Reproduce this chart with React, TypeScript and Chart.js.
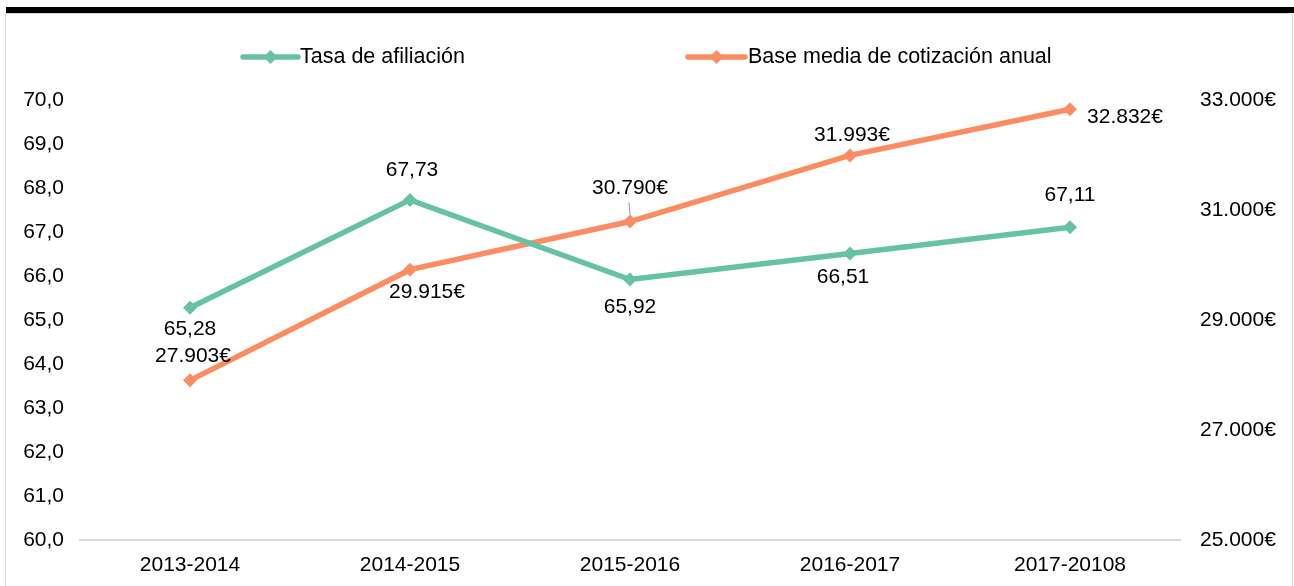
import React, { useEffect, useRef } from "react";
import { Chart, registerables } from "chart.js";

Chart.register(...registerables);

const categories = ["2013-2014", "2014-2015", "2015-2016", "2016-2017", "2017-20108"];
const tasaAfiliacion = [65.28, 67.73, 65.92, 66.51, 67.11];
const baseMedia = [27903, 29915, 30790, 31993, 32832];
const seriesNames = ["Tasa de afiliación", "Base media de cotización anual"];
const leftTicks = [60, 61, 62, 63, 64, 65, 66, 67, 68, 69, 70];
const rightTicks = [25000, 27000, 29000, 31000, 33000];

const GREEN = "#66c2a5";
const ORANGE = "#fc8d62";
const FONT = '"Liberation Sans", Arial, sans-serif';
const FS = 21;

// label placement offsets (px) relative to each point
const greenLabelOffsets = [[0, 22], [2, -30], [0, 28], [-7, 24], [0, -32]];
const orangeLabelOffsets = [[3, -24], [17, 23], [0, -33], [2, -20], [55, 8]];
const orangeLeader = [false, false, true, false, false];

const fmtComma = (v: number) => v.toFixed(2).replace(".", ",");
const fmtEuro = (v: number) =>
  Math.round(v).toString().replace(/\B(?=(\d{3})+(?!\d))/g, ".") + "€";

function drawDiamond(ctx: CanvasRenderingContext2D, x: number, y: number, r: number, color: string) {
  ctx.save();
  ctx.fillStyle = color;
  ctx.beginPath();
  ctx.moveTo(x, y - r);
  ctx.lineTo(x + r, y);
  ctx.lineTo(x, y + r);
  ctx.lineTo(x - r, y);
  ctx.closePath();
  ctx.fill();
  ctx.restore();
}

const labelPlugin = {
  id: "customLabels",
  afterDatasetsDraw(chart: any) {
    const ctx = chart.ctx as CanvasRenderingContext2D;
    ctx.save();
    ctx.font = `${FS}px ${FONT}`;
    ctx.fillStyle = "#000";
    ctx.textAlign = "center";
    ctx.textBaseline = "middle";
    chart.data.datasets.forEach((ds: any, di: number) => {
      const meta = chart.getDatasetMeta(di);
      const offs = di === 0 ? greenLabelOffsets : orangeLabelOffsets;
      meta.data.forEach((pt: any, i: number) => {
        const v = ds.data[i];
        const txt = di === 0 ? fmtComma(v) : fmtEuro(v);
        const [dx, dy] = offs[i];
        if (di === 1 && orangeLeader[i]) {
          ctx.save();
          ctx.strokeStyle = "#a6a6a6";
          ctx.lineWidth = 1.2;
          ctx.beginPath();
          ctx.moveTo(pt.x - 1, pt.y + dy + 14);
          ctx.lineTo(pt.x, pt.y - 7);
          ctx.stroke();
          ctx.restore();
        }
        ctx.fillText(txt, pt.x + dx, pt.y + dy);
      });
    });
    ctx.restore();
  },
  afterDraw(chart: any) {
    const ctx = chart.ctx as CanvasRenderingContext2D;
    const items = [
      { x1: 243, x2: 298, tx: 300, color: GREEN, name: seriesNames[0] },
      { x1: 688, x2: 745, tx: 748, color: ORANGE, name: seriesNames[1] },
    ];
    const y = 57;
    ctx.save();
    items.forEach((it) => {
      ctx.strokeStyle = it.color;
      ctx.lineWidth = 5.5;
      ctx.lineCap = "round";
      ctx.beginPath();
      ctx.moveTo(it.x1, y);
      ctx.lineTo(it.x2, y);
      ctx.stroke();
      drawDiamond(ctx, (it.x1 + it.x2) / 2, y, 7, it.color);
      ctx.fillStyle = "#000";
      ctx.font = `21.5px ${FONT}`;
      ctx.textAlign = "left";
      ctx.textBaseline = "middle";
      ctx.fillText(it.name, it.tx, y);
    });
    ctx.restore();
  },
};

export default function App() {
  const ref = useRef<HTMLCanvasElement | null>(null);

  useEffect(() => {
    document.body.style.margin = "0";
    const canvas = ref.current!;
    const chart = new Chart(canvas, {
      type: "line",
      data: {
        labels: categories,
        datasets: [
          {
            label: seriesNames[0],
            data: tasaAfiliacion,
            yAxisID: "y",
            borderColor: GREEN,
            backgroundColor: GREEN,
            borderWidth: 5.5,
            pointStyle: "rectRot",
            pointRadius: 7,
            pointBorderWidth: 0,
            tension: 0,
          },
          {
            label: seriesNames[1],
            data: baseMedia,
            yAxisID: "y1",
            borderColor: ORANGE,
            backgroundColor: ORANGE,
            borderWidth: 5.5,
            pointStyle: "rectRot",
            pointRadius: 7,
            pointBorderWidth: 0,
            tension: 0,
          },
        ],
      },
      options: {
        responsive: false,
        animation: false,
        layout: { padding: { top: 100, left: 0, right: 0, bottom: 0 } },
        plugins: {
          legend: { display: false },
          tooltip: { enabled: false },
        },
        scales: {
          x: {
            offset: true,
            grid: { display: false, drawTicks: false },
            border: { display: true, color: "#d9d9d9", width: 2 },
            ticks: { color: "#000", font: { family: FONT, size: FS }, padding: 13, maxRotation: 0 },
            afterFit: (s: any) => { s.height = 46; },
          },
          y: {
            position: "left",
            min: 60,
            max: 70,
            afterBuildTicks: (s: any) => { s.ticks = leftTicks.map((v) => ({ value: v })); },
            grid: { display: false, drawTicks: false },
            border: { display: false },
            ticks: {
              color: "#000",
              font: { family: FONT, size: FS },
              padding: 16,
              callback: (v: any) => Number(v).toFixed(1).replace(".", ","),
            },
            afterFit: (s: any) => { s.width = 80; },
          },
          y1: {
            position: "right",
            min: 25000,
            max: 33000,
            afterBuildTicks: (s: any) => { s.ticks = rightTicks.map((v) => ({ value: v })); },
            grid: { display: false, drawTicks: false },
            border: { display: false },
            ticks: {
              color: "#000",
              font: { family: FONT, size: FS },
              padding: 20,
              callback: (v: any) => fmtEuro(Number(v)),
            },
            afterFit: (s: any) => { s.width = 114; },
          },
        },
      },
      plugins: [labelPlugin],
    });
    return () => chart.destroy();
  }, []);

  return (
    <div style={{ position: "absolute", left: 0, top: 0, width: 1294, height: 586, background: "#fff" }}>
      <canvas ref={ref} width={1294} height={586} style={{ position: "absolute", left: 0, top: 0 }} />
      <div style={{ position: "absolute", left: 6, top: 7, width: 1288, height: 6, background: "#000" }} />
      <div style={{ position: "absolute", left: 6, top: 13, width: 1287, height: 1, background: "#d9d9d9" }} />
      <div style={{ position: "absolute", left: 5, top: 13, width: 1, height: 573, background: "#d9d9d9" }} />
      <div style={{ position: "absolute", left: 1292, top: 13, width: 1, height: 573, background: "#d9d9d9" }} />
    </div>
  );
}
